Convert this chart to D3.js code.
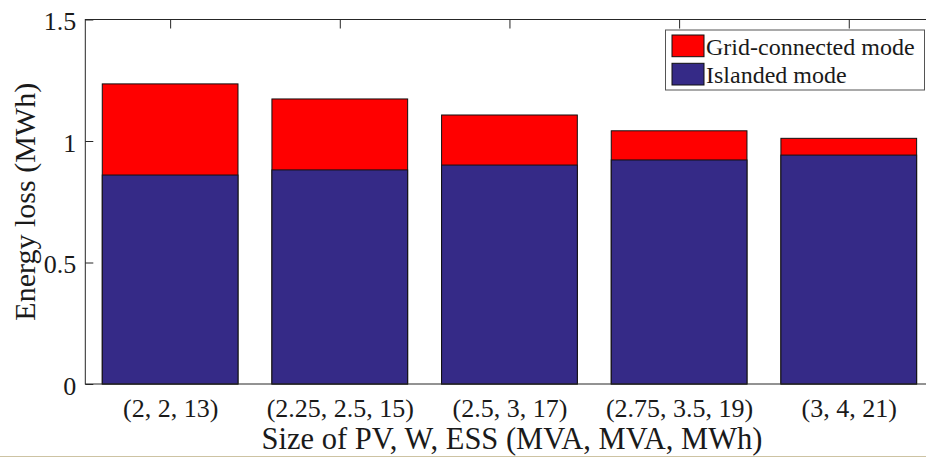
<!DOCTYPE html>
<head>
<meta charset="utf-8">
<script src="https://d3js.org/d3.v7.min.js"></script>
<style>
  body { margin: 0; background: #fff; }
</style>
</head>
<body>
<div id="vis"></div>
<script>
// values
const categories = ['(2, 2, 13)', '(2.25, 2.5, 15)', '(2.5, 3, 17)', '(2.75, 3.5, 19)', '(3, 4, 21)']
const islanded = [0.860, 0.881, 0.901, 0.922, 0.942]
const gridConnected = [1.235, 1.173, 1.107, 1.042, 1.011]
const yTicks = [0, 0.5, 1, 1.5]
const seriesNames = ['Grid-connected mode', 'Islanded mode']
const colours = ['#ff0000', '#352a87']

const FONT = 'Liberation Serif'
const width = 926
const height = 458
const pLeft = 85.3, pTop = 19.5, pBottom = 384
const pRight = 933.6 // plot box runs past the cropped edge

const svg = d3.select('#vis').append('svg')
  .attr('width', width)
  .attr('height', height)

const x = d3.scaleLinear().domain([0.5, categories.length + 0.5]).range([pLeft, pRight])
const y = d3.scaleLinear().domain([0, 1.5]).range([pBottom, pTop])
const barW = (x(1) - x(0)) * 0.8

const data = categories.map((c, i) => ({ c, i, isl: islanded[i], grid: gridConnected[i] }))

// stacked bars: grid-connected drawn full height, islanded over it
const g = svg.append('g')
g.selectAll('.grid').data(data).join('rect')
  .attr('x', d => x(d.i + 1) - barW / 2)
  .attr('y', d => y(d.grid))
  .attr('width', barW)
  .attr('height', d => y(0) - y(d.grid))
  .attr('fill', colours[0])
  .attr('stroke', '#111')
  .attr('stroke-width', 1)

g.selectAll('.isl').data(data).join('rect')
  .attr('x', d => x(d.i + 1) - barW / 2)
  .attr('y', d => y(d.isl))
  .attr('width', barW)
  .attr('height', d => y(0) - y(d.isl))
  .attr('fill', colours[1])
  .attr('stroke', '#111')
  .attr('stroke-width', 1)

// box
svg.append('rect')
  .attr('x', pLeft).attr('y', pTop)
  .attr('width', pRight - pLeft).attr('height', pBottom - pTop)
  .attr('fill', 'none').attr('stroke', '#262626').attr('stroke-width', 1)

// y axis, ticks inside
const yAxis = d3.axisLeft(y).tickValues(yTicks).tickSizeInner(-8).tickSizeOuter(0)
  .tickFormat(d => d)
const ya = svg.append('g').attr('transform', `translate(${pLeft},0)`).call(yAxis)
ya.select('.domain').remove()
ya.selectAll('line').attr('stroke', '#262626')
ya.selectAll('text')
  .attr('x', -9).attr('dy', 10)
  .attr('fill', '#1a1a1a')
  .style('font-family', FONT).style('font-size', '26px')

// x axis at bottom (labels) and ticks at top
const xAxis = d3.axisBottom(x).tickValues(d3.range(1, categories.length + 1))
  .tickSize(0).tickPadding(0).tickFormat(d => categories[d - 1])
const xa = svg.append('g').attr('transform', `translate(0,${pBottom})`).call(xAxis)
xa.select('.domain').remove()
xa.selectAll('text')
  .attr('y', 0).attr('dy', 33)
  .attr('fill', '#1a1a1a')
  .style('font-family', FONT).style('font-size', '26px')

const xTop = d3.axisTop(x).tickValues(d3.range(1, categories.length + 1)).tickSize(-9).tickFormat('')
const xt = svg.append('g').attr('transform', `translate(0,${pTop})`).call(xTop)
xt.select('.domain').remove()
xt.selectAll('line').attr('stroke', '#262626')

// axis titles
svg.append('text')
  .attr('x', 512).attr('y', 448.5)
  .attr('text-anchor', 'middle')
  .attr('fill', '#1a1a1a')
  .style('font-family', FONT).style('font-size', '30.5px')
  .text('Size of PV, W, ESS (MVA, MVA, MWh)')

svg.append('text')
  .attr('transform', `translate(35,${(pTop + pBottom) / 2}) rotate(-90)`)
  .attr('text-anchor', 'middle')
  .attr('fill', '#1a1a1a')
  .style('font-family', FONT).style('font-size', '30px')
  .text('Energy loss (MWh)')

// legend
const lg = svg.append('g')
lg.append('rect')
  .attr('x', 665.5).attr('y', 30)
  .attr('width', 259).attr('height', 60)
  .attr('fill', '#fff').attr('stroke', '#555').attr('stroke-width', 1)

seriesNames.forEach((name, i) => {
  const row = lg.append('g').attr('transform', `translate(672,${35 + i * 28.3})`)
  row.append('rect')
    .attr('x', 0).attr('y', 0)
    .attr('width', 32).attr('height', 21.7)
    .attr('fill', colours[i]).attr('stroke', '#111').attr('stroke-width', 1)
  row.append('text')
    .attr('x', 34).attr('y', 19.5)
    .attr('fill', '#1a1a1a')
    .style('font-family', FONT).style('font-size', '24px')
    .text(name)
})

// thin border line at the foot of the picture
svg.append('line')
  .attr('x1', 0).attr('x2', width)
  .attr('y1', 456.5).attr('y2', 456.5)
  .attr('stroke', '#cdc3a3').attr('stroke-width', 1.2)
</script>
</body>
